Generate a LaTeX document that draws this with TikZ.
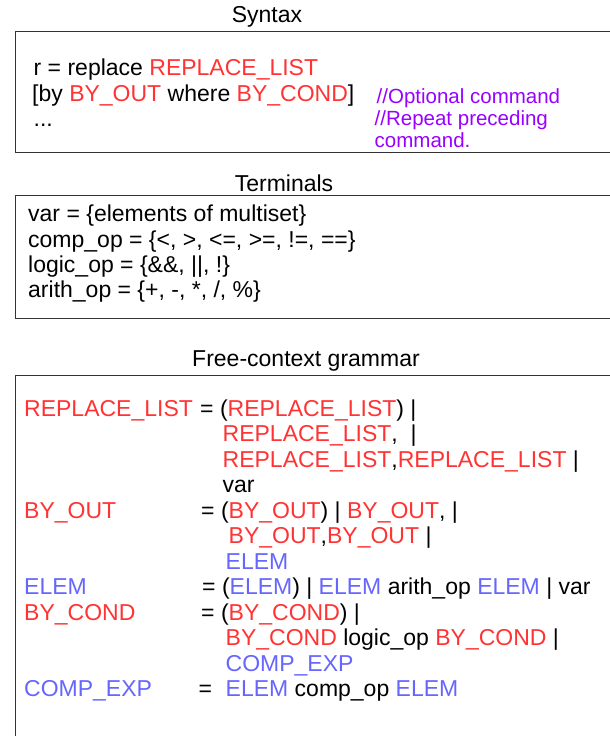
\documentclass[tikz,border=0pt]{standalone}
\usepackage{fontspec}
\setmainfont{Liberation Sans}
\definecolor{cred}{HTML}{FF3333}
\definecolor{cblue}{HTML}{6666FF}
\definecolor{cpurple}{HTML}{9900FF}
\newcommand{\Rd}[1]{\textcolor{cred}{#1}}
\newcommand{\Bl}[1]{\textcolor{cblue}{#1}}
\begin{document}
\begin{tikzpicture}[x=1pt,y=-1pt,
  txt/.style={anchor=base west,inner sep=0pt,font=\fontsize{23}{25.5}\selectfont},
  ttl/.style={anchor=base,inner sep=0pt,font=\fontsize{23}{25.5}\selectfont},
  cmt/.style={anchor=base west,inner sep=0pt,text=cpurple,font=\fontsize{20.5}{22}\selectfont},
  frame/.style={draw=black!80,line width=1pt}]
\clip (0,0) rectangle (610,736);
\fill[white] (0,0) rectangle (610,736);
% Syntax
\node[ttl] (t1) at (267,23) {Syntax};
\draw[frame] (15,31) rectangle (640,152);
\node[txt] (s1) at (33.5,75) {r = replace \Rd{REPLACE\_LIST}};
\node[txt] (s2) at (32,101) {[by \Rd{BY\_OUT} where \Rd{BY\_COND}]};
\node[txt] (s3) at (33.5,126) {...};
\node[cmt] (c1) at (376.5,103) {//Optional command};
\node[cmt] (c2) at (374.5,125.5) {//Repeat preceding};
\node[cmt] (c3) at (374.5,147.5) {command.};
% Terminals
\node[ttl] (t2) at (284,191) {Terminals};
\draw[frame] (15,195) rectangle (640,318);
\node[txt] (m1) at (28,221) {var = \{elements of multiset\}};
\node[txt] (m2) at (28,247) {comp\_op = \{<, >, <=, >=, !=, ==\}};
\node[txt] (m3) at (28,272) {logic\_op = \{\&\&, ||, !\}};
\node[txt] (m4) at (28,297) {arith\_op = \{+, -, *, /, \%\}};
% Grammar
\node[ttl] (t3) at (306,366) {Free-context grammar};
\draw[frame] (15,375) rectangle (640,760);
\node[txt] (g1) at (24,416) {\Rd{REPLACE\_LIST}};
\node[txt] (g1r) at (200,416) {= (\Rd{REPLACE\_LIST}) |};
\node[txt] (g2r) at (222.5,441.5) {\Rd{REPLACE\_LIST}, \ |};
\node[txt] (g3r) at (222.5,467) {\Rd{REPLACE\_LIST},\Rd{REPLACE\_LIST} |};
\node[txt] (g4r) at (222.5,492.5) {var};
\node[txt] (g5) at (24,518) {\Rd{BY\_OUT}};
\node[txt] (g5r) at (201,518) {= (\Rd{BY\_OUT}) | \Rd{BY\_OUT}, |};
\node[txt] (g6r) at (228.5,543.5) {\Rd{BY\_OUT},\Rd{BY\_OUT} |};
\node[txt] (g7r) at (225.5,569) {\Bl{ELEM}};
\node[txt] (g8) at (24,594.5) {\Bl{ELEM}};
\node[txt] (g8r) at (202,594.5) {= (\Bl{ELEM}) | \Bl{ELEM} arith\_op \Bl{ELEM} | var};
\node[txt] (g9) at (24,620) {\Rd{BY\_COND}};
\node[txt] (g9r) at (201,620) {= (\Rd{BY\_COND}) |};
\node[txt] (g10r) at (225.5,645.5) {\Rd{BY\_COND} logic\_op \Rd{BY\_COND} |};
\node[txt] (g11r) at (225.5,671) {\Bl{COMP\_EXP}};
\node[txt] (g12) at (24,696.5) {\Bl{COMP\_EXP}};
\node[txt] (g12r) at (198.5,696.5) {=};
\node[txt] (g12s) at (225.5,696.5) {\Bl{ELEM} comp\_op \Bl{ELEM}};
\end{tikzpicture}
\end{document}
